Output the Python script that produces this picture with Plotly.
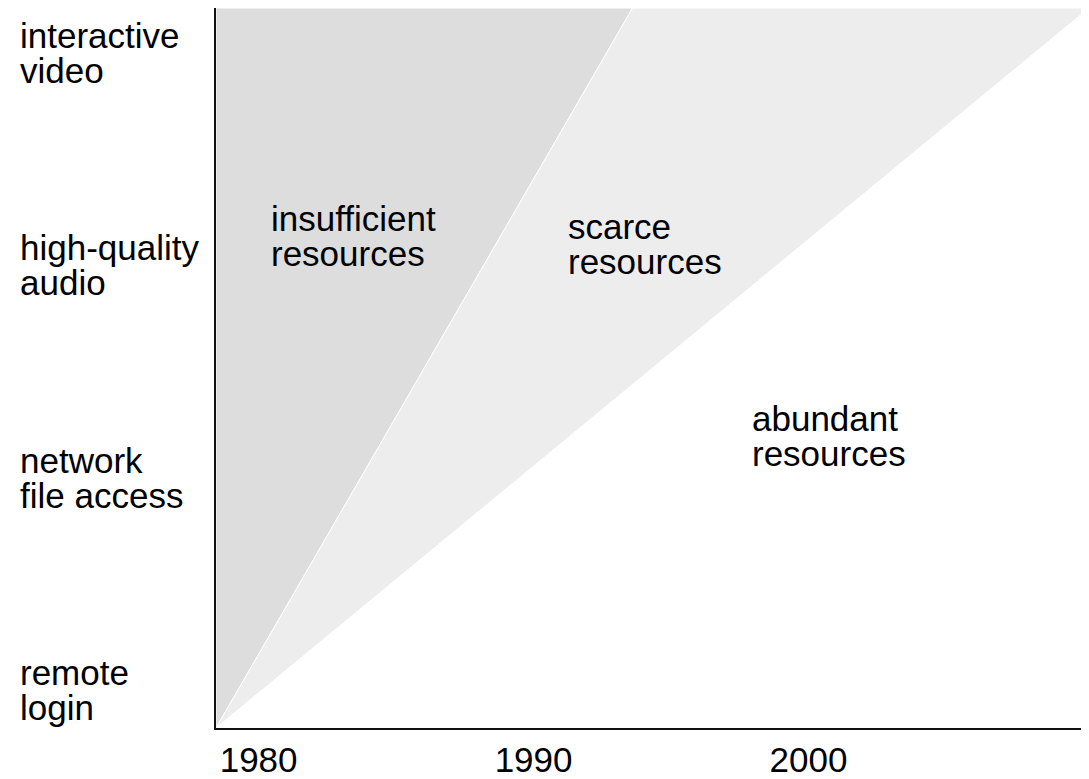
import plotly.graph_objects as go

# ---- data ----
app_lines = [["remote", "login"], ["network", "file access"],
             ["high-quality", "audio"], ["interactive", "video"]]
app_levels = [0, 1, 2, 3]
year_ticks = [1980, 1990, 2000]
x_start, x_end = 1978.45, 2010.2
y_bottom, y_top = -0.169, 3.22
boundary_insufficient_year = 1993.6   # where insufficient/scarce edge meets top
boundary_scarce_year = 2010.2         # where scarce/abundant edge meets top
region_names = [["insufficient", "resources"], ["scarce", "resources"], ["abundant", "resources"]]
region_x = [1980.38, 1991.18, 1997.87]
region_y = [2.145, 2.107, 1.207]

FONT = "Liberation Sans, Arial, Helvetica, sans-serif"
FS = 35

fig = go.Figure()
fig.add_trace(go.Scatter(
    x=[x_start, x_start, boundary_insufficient_year, x_start],
    y=[y_bottom, y_top, y_top, y_bottom],
    fill="toself", fillcolor="#dddddd", mode="lines",
    line=dict(color="white", width=1), hoverinfo="skip", showlegend=False))
fig.add_trace(go.Scatter(
    x=[x_start, boundary_insufficient_year, boundary_scarce_year, x_start],
    y=[y_bottom, y_top, y_top, y_bottom],
    fill="toself", fillcolor="#ededed", mode="lines",
    line=dict(color="white", width=1), hoverinfo="skip", showlegend=False))

annotations = []
for lines, lvl in zip(app_lines, app_levels):
    for i, t in enumerate(lines):
        annotations.append(dict(
            text=t, x=-0.2265, xref="paper", y=lvl, yref="y",
            xanchor="left", yanchor="middle", showarrow=False,
            yshift=19.5 if i == 0 else -15.5,
            font=dict(family=FONT, size=FS, color="black")))
for lines, rx, ry in zip(region_names, region_x, region_y):
    for i, t in enumerate(lines):
        annotations.append(dict(
            text=t, x=rx, xref="x", y=ry, yref="y",
            xanchor="left", yanchor="middle", showarrow=False,
            yshift=17.5 if i == 0 else -17.5,
            font=dict(family=FONT, size=FS, color="black")))

fig.update_layout(
    width=1081, height=771,
    margin=dict(l=208, r=0, t=0, b=48),
    paper_bgcolor="white", plot_bgcolor="white",
    annotations=annotations,
    font=dict(family=FONT, size=FS, color="black"),
    xaxis=dict(range=[x_start, x_end], tickvals=year_ticks,
               ticktext=[str(y) for y in year_ticks],
               showgrid=False, zeroline=False, showline=True,
               linecolor="#111111", linewidth=2, ticks="",
               tickfont=dict(family=FONT, size=FS, color="black")),
    yaxis=dict(range=[y_bottom, y_top], showticklabels=False,
               showgrid=False, zeroline=False, showline=True,
               linecolor="#111111", linewidth=2, ticks=""),
)

fig.write_html("out.html")
